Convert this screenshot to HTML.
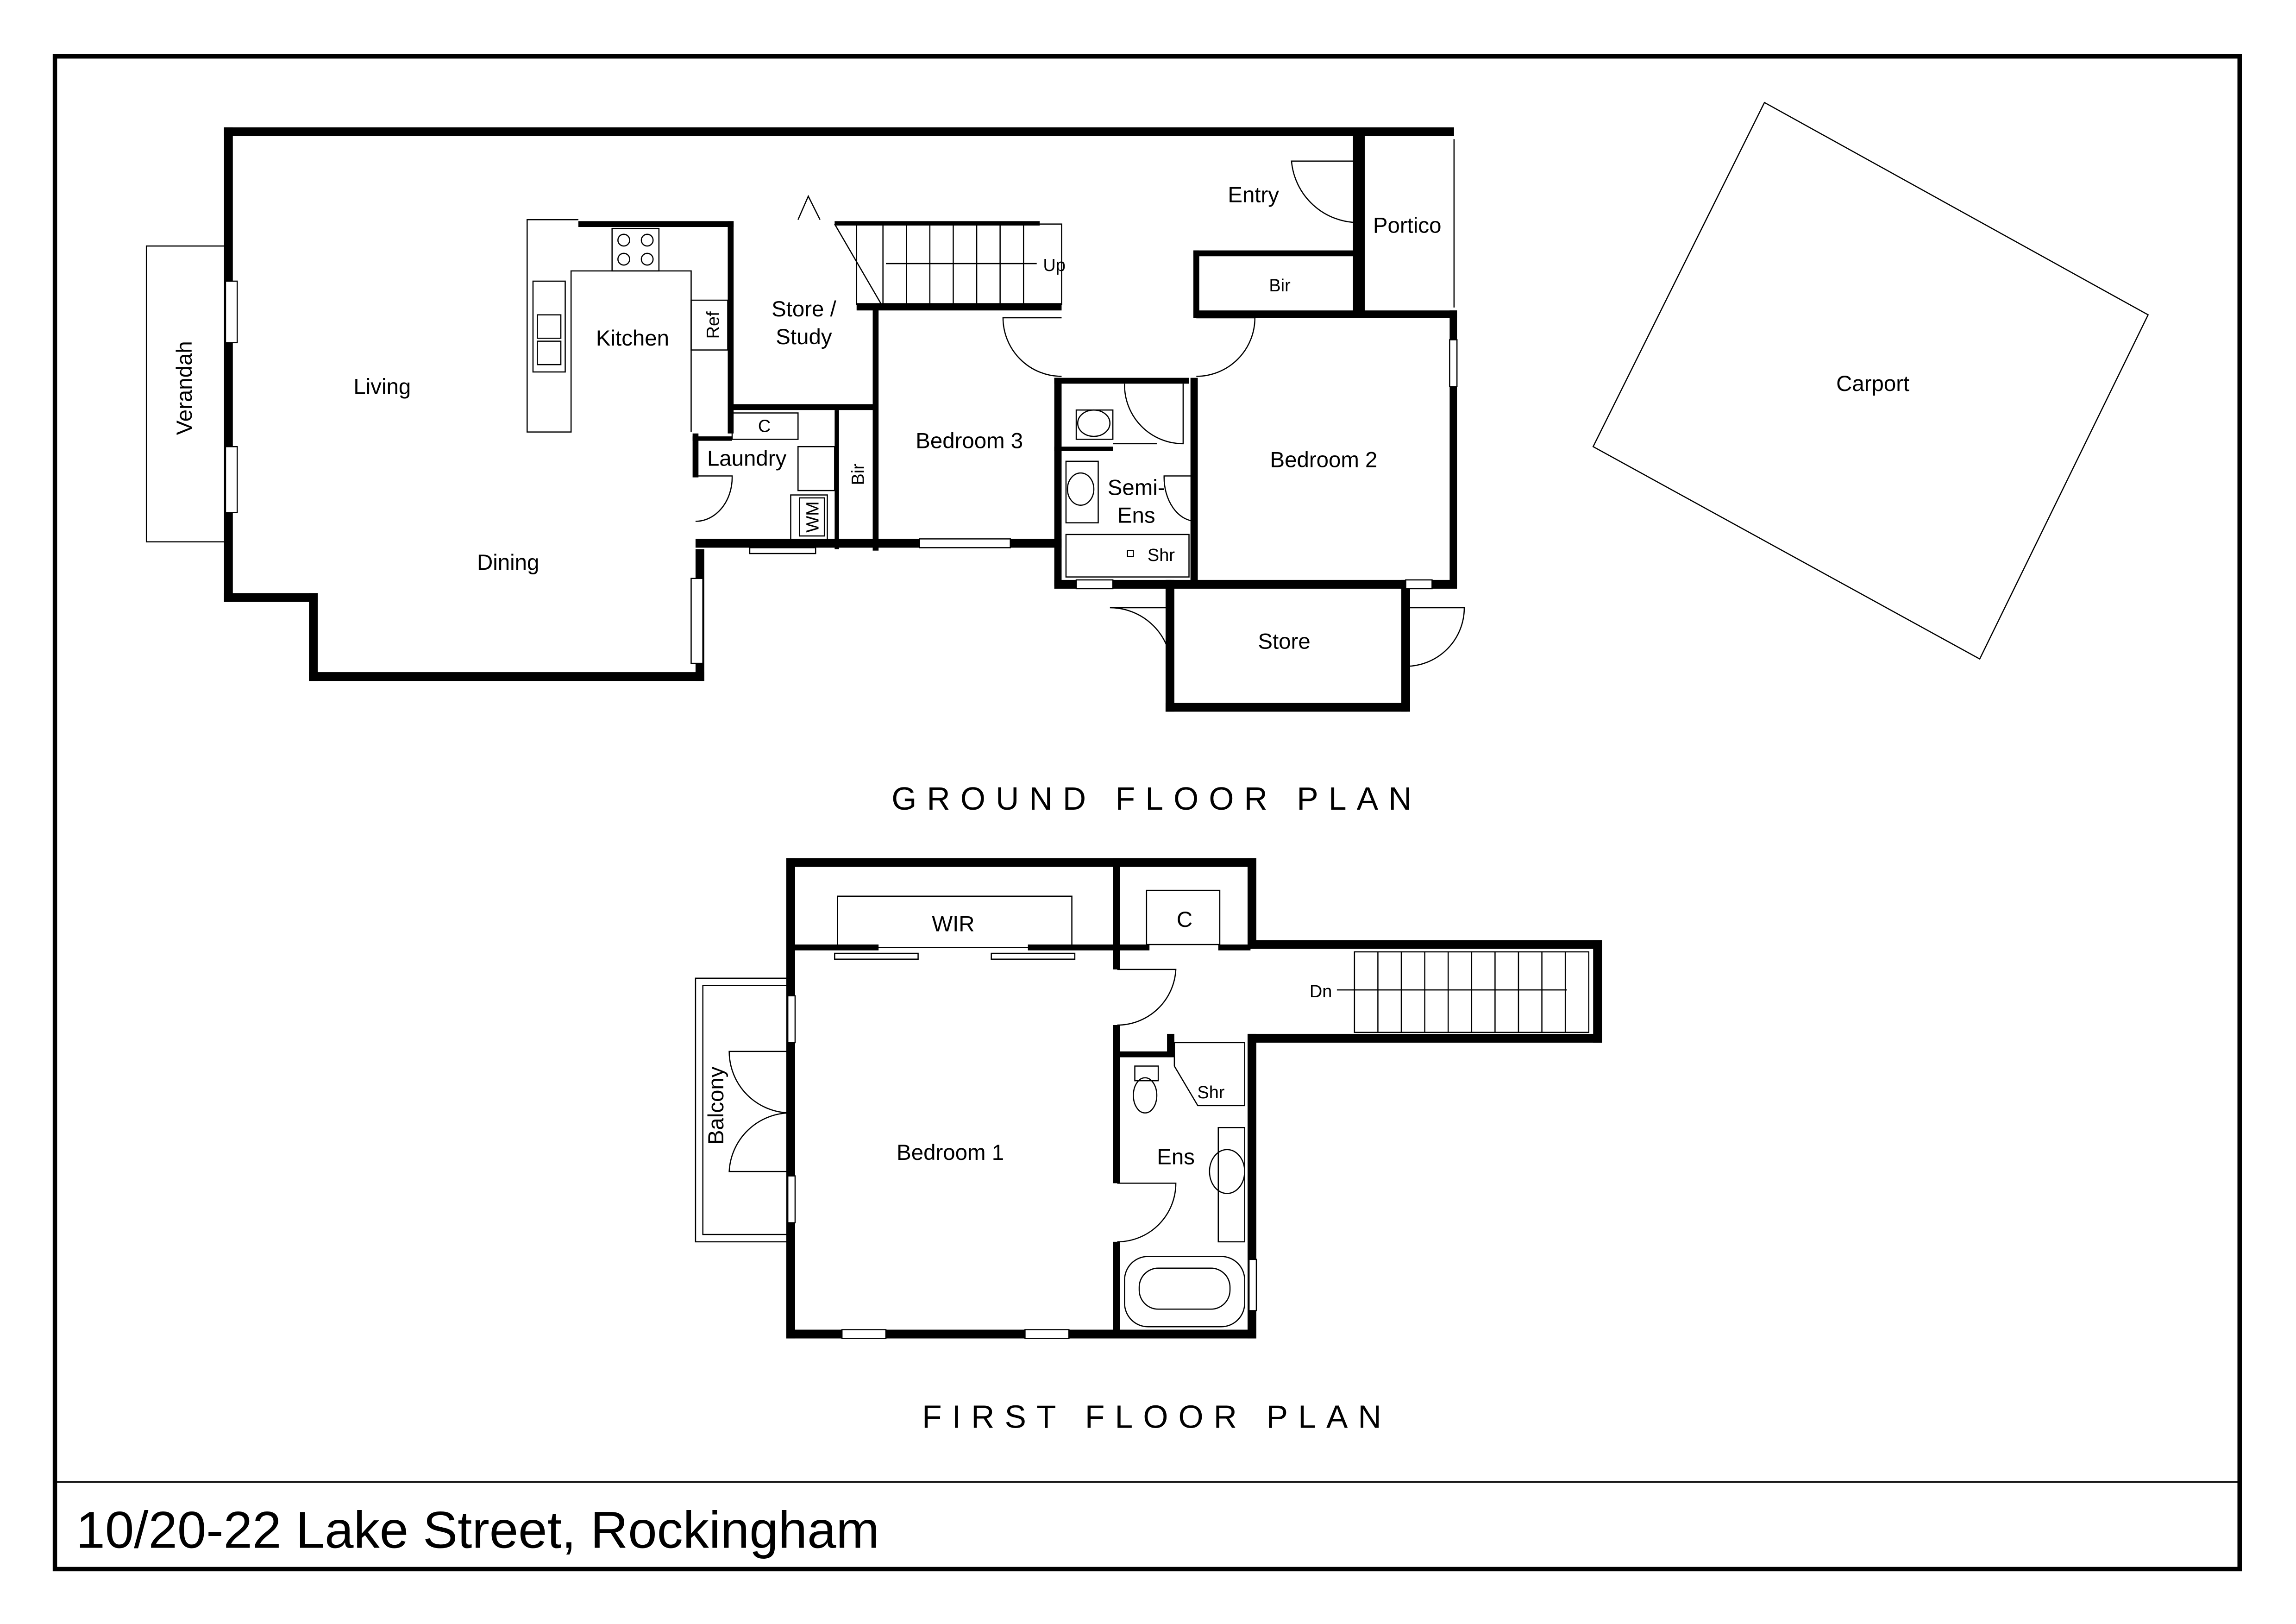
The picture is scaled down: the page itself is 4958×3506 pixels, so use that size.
<!DOCTYPE html>
<html><head><meta charset="utf-8"><style>
html,body{margin:0;padding:0;background:#fff}
svg{display:block}
text{font-family:"Liberation Sans",sans-serif;fill:#000}
</style></head><body>
<svg width="4958" height="3506" viewBox="0 0 1568 1109" preserveAspectRatio="none" xmlns="http://www.w3.org/2000/svg">
<rect x="0" y="0" width="1568" height="1109" fill="#fff"/>
<rect x="37.5" y="38.5" width="1492" height="1033" fill="none" stroke="#000" stroke-width="3"/>
<line x1="37" y1="1012" x2="1530" y2="1012" stroke="#000" stroke-width="1"/>
<text x="52" y="1057" font-size="35.5">10/20-22 Lake Street, Rockingham</text>

<g fill="none" stroke="#000" stroke-width="0.8">
<rect x="100" y="168" width="57" height="202"/>
<polygon points="1205,70 1467,215 1352,450 1088,305"/>
<line x1="993" y1="95" x2="993" y2="210"/>
<polyline points="395,150 360,150 360,295 390,295 390,185 472,185 472,295"/>
<rect x="418" y="156" width="32" height="29"/>
<circle cx="426" cy="164" r="4"/><circle cx="442" cy="164" r="4"/><circle cx="426" cy="177" r="4"/><circle cx="442" cy="177" r="4"/>
<rect x="364" y="192" width="22" height="62"/>
<rect x="367" y="215" width="16" height="16"/><rect x="367" y="233" width="16" height="16"/>
<rect x="472" y="205" width="25" height="34"/>
<rect x="585" y="153" width="140" height="55"/>
<line x1="603" y1="153" x2="603" y2="208"/><line x1="619" y1="153" x2="619" y2="208"/><line x1="635" y1="153" x2="635" y2="208"/><line x1="651" y1="153" x2="651" y2="208"/><line x1="667" y1="153" x2="667" y2="208"/><line x1="683" y1="153" x2="683" y2="208"/><line x1="699" y1="153" x2="699" y2="208"/>
<line x1="570" y1="153" x2="602" y2="208"/>
<line x1="605" y1="180" x2="708" y2="180"/>
<polyline points="545,150 552,134 560,150"/>
<rect x="500" y="282" width="45" height="18"/>
<rect x="545" y="305" width="25" height="30"/>
<rect x="540" y="338" width="25" height="32"/>
<rect x="546" y="340" width="17" height="26"/>
<ellipse cx="747" cy="289" rx="11" ry="9"/>
<rect x="735" y="280" width="25" height="20"/>
<line x1="760" y1="303" x2="790" y2="303"/>
<ellipse cx="738" cy="334" rx="9" ry="11"/>
<rect x="728" y="315" width="22" height="42"/>
<rect x="728" y="365" width="84" height="29"/>
<rect x="770" y="376" width="4" height="4"/>
<path d="M928,110 L882,110 A46,46 0 0 0 928,152"/>
<path d="M725,217 L685,217 A40,40 0 0 0 725,257"/>
<path d="M817,217 L857,217 A40,40 0 0 1 817,257"/>
<path d="M475,325 L500,325 A25,30 0 0 1 475,356"/>
<path d="M808,262 L808,303 A40,40 0 0 1 768,262"/>
<path d="M817,325 L795,325 A22,30 0 0 0 817,356"/>
<path d="M800,415 L758,415 A42,42 0 0 1 800,457"/>
<path d="M960,415 L1000,415 A40,40 0 0 1 960,455"/>
<rect x="475" y="668" width="65" height="180"/>
<rect x="480" y="673" width="60" height="170"/>
<rect x="572" y="612" width="160" height="35"/>
<rect x="783" y="608" width="50" height="37"/>
<rect x="925" y="650" width="160" height="55"/>
<line x1="941" y1="650" x2="941" y2="705"/><line x1="957" y1="650" x2="957" y2="705"/><line x1="973" y1="650" x2="973" y2="705"/><line x1="989" y1="650" x2="989" y2="705"/><line x1="1005" y1="650" x2="1005" y2="705"/><line x1="1021" y1="650" x2="1021" y2="705"/><line x1="1037" y1="650" x2="1037" y2="705"/><line x1="1053" y1="650" x2="1053" y2="705"/><line x1="1069" y1="650" x2="1069" y2="705"/>
<line x1="913" y1="676" x2="1070" y2="676"/>
<path d="M763,662 L803,662 A40,40 0 0 1 763,700"/>
<path d="M763,808 L803,808 A40,40 0 0 1 763,848"/>
<path d="M540,718 L498,718 A42,42 0 0 0 540,760"/>
<path d="M540,800 L498,800 A42,42 0 0 1 540,760"/>
<polygon points="802,712 850,712 850,755 818,755 802,728"/>
<ellipse cx="782" cy="748" rx="8" ry="12"/>
<rect x="775" y="728" width="16" height="10"/>
<rect x="832" y="770" width="18" height="78"/>
<ellipse cx="838" cy="800" rx="12" ry="15"/>
<rect x="768" y="858" width="82" height="48" rx="16"/>
<rect x="778" y="866" width="62" height="28" rx="13"/>
</g>

<g fill="#000">
<rect x="153" y="87" width="840" height="6"/>
<rect x="153" y="87" width="6" height="324"/>
<rect x="153" y="405" width="64" height="6"/>
<rect x="211" y="405" width="6" height="60"/>
<rect x="211" y="459" width="270" height="6"/>
<rect x="475" y="375" width="6" height="90"/>
<rect x="395" y="151" width="106" height="4"/>
<rect x="497" y="151" width="4" height="145"/>
<rect x="570" y="151" width="140" height="3"/>
<rect x="497" y="276" width="100" height="4"/>
<rect x="596" y="208" width="4" height="168"/>
<rect x="585" y="207" width="140" height="5"/>
<rect x="473" y="296" width="4" height="30"/>
<rect x="473" y="298" width="27" height="3"/>
<rect x="570" y="280" width="3" height="95"/>
<rect x="475" y="368" width="250" height="6"/>
<rect x="720" y="258" width="5" height="142"/>
<rect x="720" y="258" width="92" height="4"/>
<rect x="720" y="305" width="40" height="3"/>
<rect x="720" y="396" width="80" height="6"/>
<rect x="813" y="258" width="5" height="140"/>
<rect x="924" y="93" width="8" height="120"/>
<rect x="815" y="171" width="113" height="4"/>
<rect x="815" y="171" width="4" height="45"/>
<rect x="815" y="212" width="180" height="5"/>
<rect x="990" y="212" width="5" height="188"/>
<rect x="796" y="396" width="199" height="6"/>
<rect x="796" y="396" width="6" height="90"/>
<rect x="796" y="480" width="165" height="6"/>
<rect x="957" y="396" width="6" height="90"/>
<rect x="537" y="586" width="321" height="6"/>
<rect x="537" y="586" width="6" height="328"/>
<rect x="537" y="908" width="321" height="6"/>
<rect x="852" y="586" width="6" height="62"/>
<rect x="852" y="642" width="242" height="6"/>
<rect x="1088" y="642" width="6" height="70"/>
<rect x="852" y="706" width="242" height="6"/>
<rect x="852" y="706" width="6" height="208"/>
<rect x="760" y="586" width="5" height="76"/>
<rect x="760" y="700" width="5" height="108"/>
<rect x="760" y="848" width="5" height="62"/>
<rect x="540" y="645" width="60" height="4"/>
<rect x="702" y="645" width="60" height="4"/>
<rect x="765" y="645" width="20" height="4"/>
<rect x="832" y="645" width="22" height="4"/>
<rect x="760" y="718" width="40" height="4"/>
<rect x="797" y="706" width="5" height="16"/>
</g>
<g fill="#fff" stroke="#000" stroke-width="0.8">
<rect x="154" y="192" width="8" height="42"/>
<rect x="154" y="305" width="8" height="45"/>
<rect x="472" y="395" width="8" height="58"/>
<rect x="628" y="368" width="62" height="6"/>
<rect x="735" y="396" width="25" height="6"/>
<rect x="960" y="396" width="18" height="6"/>
<rect x="990" y="232" width="5" height="32"/>
<rect x="538" y="680" width="5" height="32"/>
<rect x="538" y="803" width="5" height="32"/>
<rect x="575" y="908" width="30" height="6"/>
<rect x="700" y="908" width="30" height="6"/>
<rect x="853" y="860" width="5" height="35"/>
<rect x="512" y="374" width="45" height="4"/>
<rect x="570" y="651" width="57" height="4"/>
<rect x="677" y="651" width="57" height="4"/>
</g>

<g font-size="15">
<text x="261" y="269" text-anchor="middle">Living</text>
<text x="347" y="389" text-anchor="middle">Dining</text>
<text x="432" y="236" text-anchor="middle">Kitchen</text>
<text x="549" y="216" text-anchor="middle">Store /</text>
<text x="549" y="235" text-anchor="middle">Study</text>
<text x="510" y="318" text-anchor="middle">Laundry</text>
<text x="662" y="306" text-anchor="middle">Bedroom 3</text>
<text x="904" y="319" text-anchor="middle">Bedroom 2</text>
<text x="856" y="138" text-anchor="middle">Entry</text>
<text x="961" y="159" text-anchor="middle">Portico</text>
<text x="776" y="338" text-anchor="middle">Semi-</text>
<text x="776" y="357" text-anchor="middle">Ens</text>
<text x="877" y="443" text-anchor="middle">Store</text>
<text x="1279" y="267" text-anchor="middle">Carport</text>
<text x="649" y="792" text-anchor="middle">Bedroom 1</text>
<text x="803" y="795" text-anchor="middle">Ens</text>
<text x="651" y="636" text-anchor="middle">WIR</text>
<text x="809" y="633" text-anchor="middle">C</text>
<text transform="translate(131,265) rotate(-90)" text-anchor="middle">Verandah</text>
<text transform="translate(494,755) rotate(-90)" text-anchor="middle">Balcony</text>
</g>
<g font-size="12">
<text x="874" y="199" text-anchor="middle">Bir</text>
<text x="522" y="295" text-anchor="middle">C</text>
<text x="720" y="185" text-anchor="middle">Up</text>
<text x="793" y="383" text-anchor="middle">Shr</text>
<text x="827" y="750" text-anchor="middle">Shr</text>
<text x="902" y="681" text-anchor="middle">Dn</text>
<text transform="translate(491,222) rotate(-90)" text-anchor="middle">Ref</text>
<text transform="translate(590,324) rotate(-90)" text-anchor="middle">Bir</text>
<text transform="translate(559,353) rotate(-90)" text-anchor="middle">WM</text>
</g>
<text x="790" y="553" font-size="22" letter-spacing="7" text-anchor="middle">GROUND FLOOR PLAN</text>
<text x="790" y="975" font-size="22" letter-spacing="7" text-anchor="middle">FIRST FLOOR PLAN</text>
</svg>
</body></html>
